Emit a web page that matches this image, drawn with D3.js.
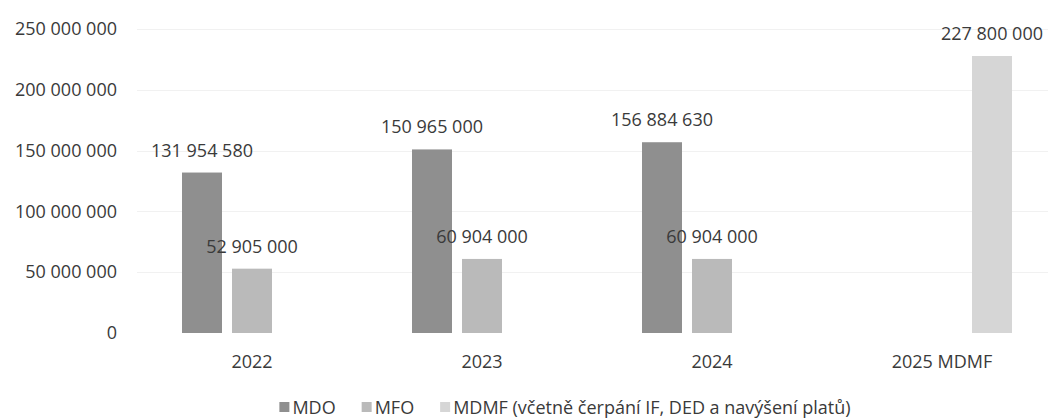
<!DOCTYPE html>
<html>
<head>
<meta charset="utf-8">
<script src="https://cdn.jsdelivr.net/npm/d3@7"></script>
<style>
  html, body { margin: 0; padding: 0; background: #fff; }
  svg text { font-family: "Open Sans", "Noto Sans", sans-serif; fill: #3a3a3a; }
</style>
</head>
<body>
<div id="chart"></div>
<script>
// chart data
const categories = ['2022', '2023', '2024', '2025 MDMF'];
const seriesNames = ['MDO', 'MFO', 'MDMF (včetně čerpání IF, DED a navýšení platů)'];
const mdoValues = [131954580, 150965000, 156884630, null];
const mfoValues = [52905000, 60904000, 60904000, null];
const mdmfValues = [null, null, null, 227800000];
const yTicks = [0, 50000000, 100000000, 150000000, 200000000, 250000000];

const colors = ['#8f8f8f', '#bababa', '#d6d6d6'];

const width = 1048, height = 418;
const fontSize = 18;

const svg = d3.select('#chart')
    .append('svg')
    .attr('width', width)
    .attr('height', height);

// scales
const x = d3.scaleBand()
    .domain(categories)
    .range([137, 1057])
    .padding(0);

const xSeries = d3.scaleBand()
    .domain(d3.range(3))
    .range([-75, 75])
    .paddingInner(0.2)
    .paddingOuter(0.1);

const y = d3.scaleLinear()
    .domain([0, 250000000])
    .range([333, 29]);

const fmt = d3.formatLocale({ decimal: ',', thousands: ' ', grouping: [3], currency: ['', ''] }).format(',d');

// faint gridlines
svg.append('g')
    .selectAll('line')
    .data(yTicks.slice(1))
    .enter()
    .append('line')
    .attr('x1', 137)
    .attr('x2', width)
    .attr('y1', d => Math.round(y(d)) + 0.5)
    .attr('y2', d => Math.round(y(d)) + 0.5)
    .style('stroke', '#f1f1f1')
    .style('stroke-width', 1);

// y axis labels
const yAxis = svg.append('g')
    .attr('transform', 'translate(117,0)')
    .call(d3.axisLeft(y).tickValues(yTicks).tickFormat(fmt).tickSize(0).tickPadding(0));
yAxis.select('.domain').remove();
yAxis.selectAll('text')
    .attr('font-family', null)
    .style('font-size', fontSize + 'px')
    .attr('dy', '0.32em');

// bars
const rows = [mdoValues, mfoValues, mdmfValues];
const barData = [];
rows.forEach((vals, s) => {
    vals.forEach((v, i) => {
        if (v != null) barData.push({ cat: categories[i], s, v });
    });
});

const barX = d => x(d.cat) + x.bandwidth() / 2 + xSeries(d.s);

svg.append('g')
    .selectAll('rect')
    .data(barData)
    .enter()
    .append('rect')
    .attr('x', barX)
    .attr('y', d => y(d.v))
    .attr('width', xSeries.bandwidth())
    .attr('height', d => y(0) - y(d.v))
    .style('fill', d => colors[d.s]);

// value labels
svg.append('g')
    .selectAll('text')
    .data(barData)
    .enter()
    .append('text')
    .attr('x', d => barX(d) + xSeries.bandwidth() / 2)
    .attr('y', d => y(d.v) - 16)
    .attr('text-anchor', 'middle')
    .style('font-size', fontSize + 'px')
    .text(d => fmt(d.v));

// category axis
const xAxis = svg.append('g')
    .attr('transform', `translate(0,${y(0)})`)
    .call(d3.axisBottom(x).tickSize(0).tickPadding(0));
xAxis.select('.domain').remove();
xAxis.selectAll('text')
    .attr('font-family', null)
    .attr('y', 35)
    .attr('dy', null)
    .style('font-size', fontSize + 'px');

// legend
const legend = svg.append('g').attr('class', 'legend');
let lx = 0;
const items = legend.selectAll('.legend-item')
    .data(seriesNames)
    .enter()
    .append('g')
    .attr('class', 'legend-item');

items.append('rect')
    .attr('y', -12)
    .attr('width', 10)
    .attr('height', 10)
    .style('fill', (d, i) => colors[i]);

items.append('text')
    .attr('x', 13)
    .style('font-size', fontSize + 'px')
    .text(d => d);

items.each(function() {
    const g = d3.select(this);
    g.attr('transform', `translate(${lx},0)`);
    lx += 13 + g.select('text').node().getComputedTextLength() + 26;
});
const legendWidth = lx - 26;
legend.attr('transform', `translate(${565 - legendWidth / 2},414)`);
</script>
</body>
</html>
